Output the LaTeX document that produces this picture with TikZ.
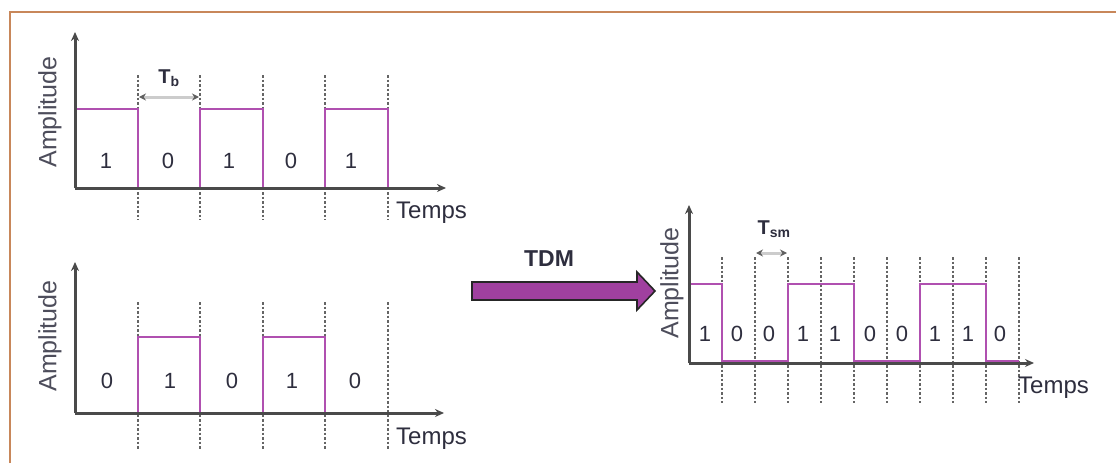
\documentclass[tikz,border=0pt]{standalone}
\usepackage{fontspec}
\setmainfont{Liberation Sans}
\usetikzlibrary{arrows.meta}
\definecolor{frameC}{HTML}{C8875A}
\definecolor{sigC}{HTML}{B050B0}
\definecolor{axisC}{HTML}{4A4A4A}
\definecolor{txtC}{HTML}{2E2E3E}
\definecolor{arrC}{HTML}{A0409F}
\tikzset{
  axisline/.style={draw=axisC, line width=3pt, -{Stealth[length=9pt,width=8pt]}},
  signal/.style={draw=sigC, line width=2.8pt, line join=miter},
  guide/.style={draw=axisC!85, line width=1.4pt, dash pattern=on 2.5pt off 2pt},
  bit/.style={text=txtC, font=\fontsize{22}{24}\selectfont, inner sep=0pt},
  amp/.style={text=txtC!85, font=\fontsize{25}{28}\selectfont, rotate=90, inner sep=0pt},
  tlabel/.style={text=txtC, font=\fontsize{24}{28}\selectfont, anchor=west, inner sep=0pt},
  period/.style={draw=gray!40, line width=3pt, {Stealth[length=7pt,width=7pt,color=gray!75!black]}-{Stealth[length=7pt,width=7pt,color=gray!75!black]}},
  perlabel/.style={text=txtC, font=\bfseries\fontsize{20}{22}\selectfont, inner sep=0pt},
}
\begin{document}
\begin{tikzpicture}[x=1pt,y=-1pt]
\useasboundingbox (0,0) rectangle (1116,463);
% frame
\draw[frameC, line width=2pt] (10,463) -- (10,12) -- (1116,12);

% ===== top panel =====
\foreach \x in {138,200,263,325,388} \draw[guide] (\x,75) -- (\x,220);
\draw[signal] (75,109) -- (138,109) -- (138,188) -- (200,188) -- (200,109) -- (263,109) -- (263,188) -- (325,188) -- (325,109) -- (388,109) -- (388,188);
\coordinate (o1) at (75,188);
\coordinate (y1) at (75,32);
\coordinate (x1) at (446,188);
\draw[axisline] (o1) -- (y1);
\draw[axisline] (o1) -- (x1);
\node[amp] (amp1) at (50,112) {Amplitude};
\node[tlabel] (temps1) at (396,213) {Temps};
\foreach \x/\b [count=\i] in {106/1,168/0,229/1,291/0,351/1}
  \node[bit] (ta\i) at (\x,161) {\b};
\coordinate (tb1) at (139,97);
\coordinate (tb2) at (199,97);
\draw[period] (tb1) -- (tb2);
\node[perlabel] (tb) at (169,78) {T\textsubscript{b}};

% ===== bottom panel =====
\foreach \x in {138,200,263,325,388} \draw[guide] (\x,302) -- (\x,450);
\draw[signal] (75,413) -- (138,413) -- (138,337) -- (200,337) -- (200,413) -- (263,413) -- (263,337) -- (325,337) -- (325,413) -- (388,413);
\coordinate (o2) at (75,413);
\coordinate (y2) at (75,262);
\coordinate (x2) at (444,413);
\draw[axisline] (o2) -- (y2);
\draw[axisline] (o2) -- (x2);
\node[amp] (amp2) at (50,336) {Amplitude};
\node[tlabel] (temps2) at (396,439) {Temps};
\foreach \x/\b [count=\i] in {107/0,170/1,232/0,292/1,355/0}
  \node[bit] (ba\i) at (\x,381) {\b};

% ===== TDM arrow =====
\draw[fill=arrC, draw=black!85, line width=1.6pt, line join=miter]
  (472,282) -- (637,282) -- (637,272) -- (655,291) -- (637,310) -- (637,300) -- (472,300) -- cycle;
\node[text=txtC, font=\bfseries\fontsize{23}{26}\selectfont, inner sep=0pt] (tdm) at (549,259) {TDM};

% ===== right panel =====
\foreach \k in {1,...,10} \draw[guide] ({689+33*\k},257) -- ({689+33*\k},403);
\draw[signal] (689,284) -- (722,284) -- (722,361) -- (788,361) -- (788,284) -- (854,284) -- (854,361) -- (920,361) -- (920,284) -- (986,284) -- (986,361) -- (1019,361);
\coordinate (o3) at (689,363);
\coordinate (y3) at (689,205);
\coordinate (x3) at (1034,363);
\draw[axisline] (o3) -- (y3);
\draw[axisline] (o3) -- (x3);
\node[amp] (amp3) at (672,283) {Amplitude};
\node[tlabel] (temps3) at (1018,388) {Temps};
\foreach \x/\b [count=\i] in {705/1,737/0,769/0,803/1,835/1,870/0,902/0,935/1,968/1,1000/0}
  \node[bit] (ra\i) at (\x,334) {\b};
\coordinate (ts1) at (756,253);
\coordinate (ts2) at (787,253);
\draw[period] (ts1) -- (ts2);
\node[perlabel] (tsm) at (774,229) {T\textsubscript{sm}};
\end{tikzpicture}
\end{document}
